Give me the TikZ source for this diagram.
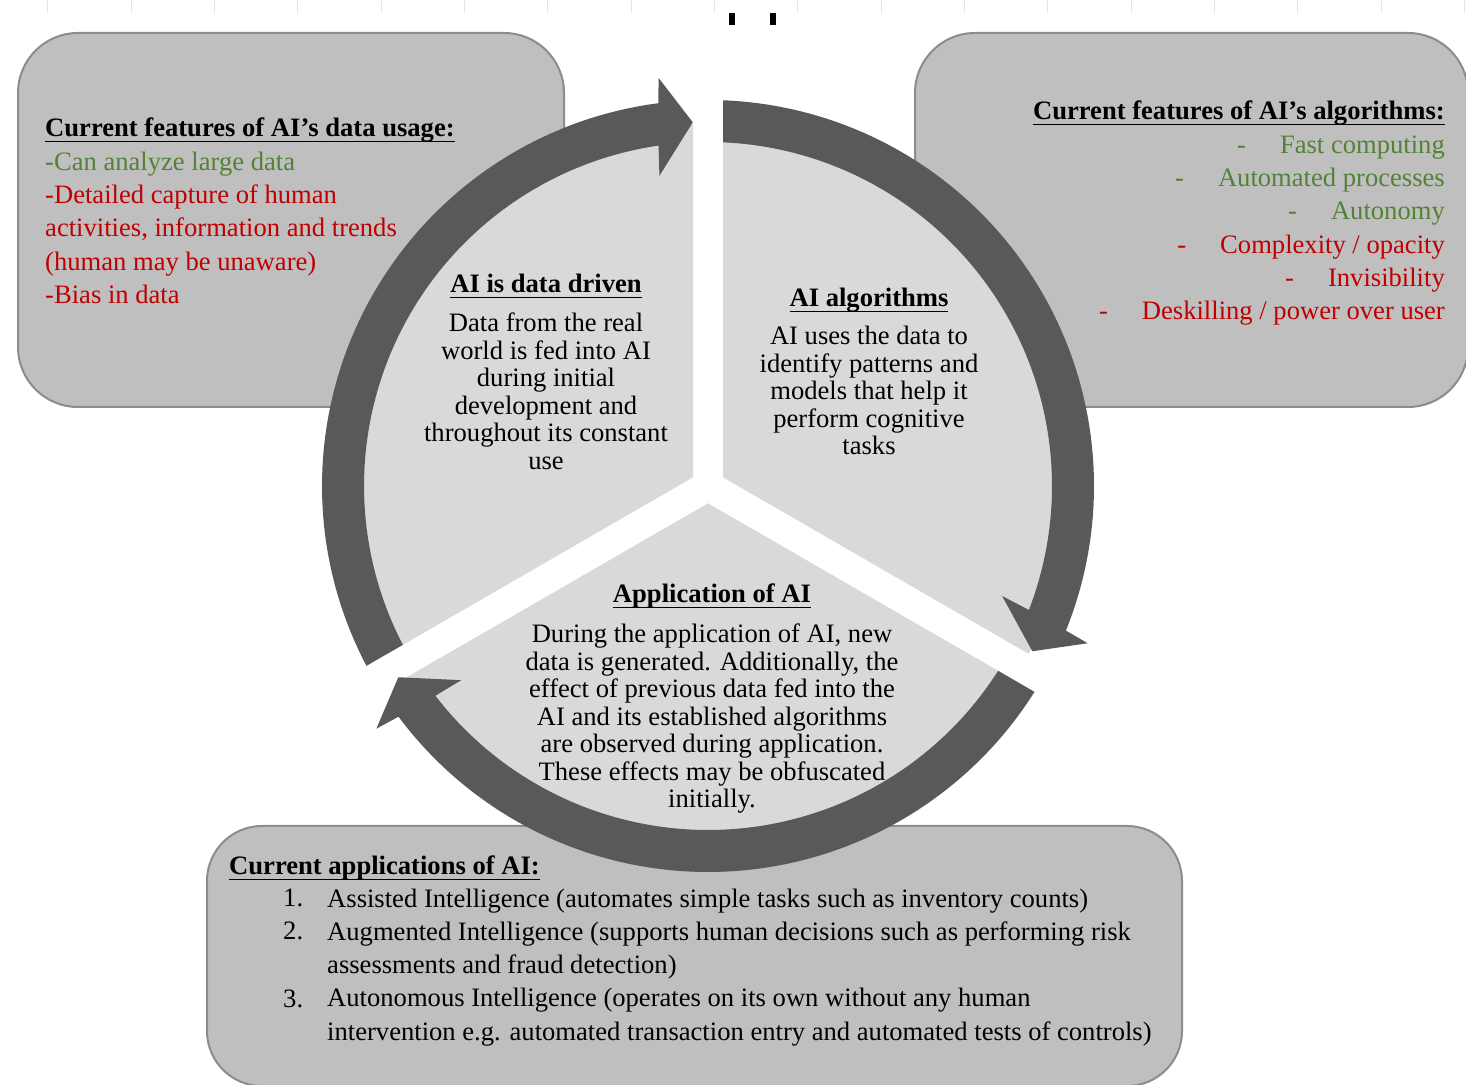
\documentclass[tikz,border=0pt]{standalone}
\usepackage{fontspec}
\setmainfont{Liberation Serif}
\definecolor{boxfill}{HTML}{BFBFBF}
\definecolor{boxline}{HTML}{8C8C8C}
\definecolor{sectorfill}{HTML}{D9D9D9}
\definecolor{ringfill}{HTML}{595959}
\definecolor{grn}{HTML}{548235}
\definecolor{rd}{HTML}{C00000}
% underline that sits close to the baseline, as in a word processor
\newcommand\myul[1]{\setbox0=\hbox{#1}\rlap{\rule[-5.5pt]{\wd0}{1.8pt}}\box0}
\tikzset{
  infobox/.style={fill=boxfill, draw=boxline, line width=2pt, rounded corners=60pt},
  sectorpart/.style={fill=sectorfill},
  ringarrow/.style={fill=ringfill},
  boxtext/.style={font=\fontsize{26.6}{33.3}\selectfont, inner sep=0pt},
  circtext/.style={font=\fontsize{26.6}{27.5}\selectfont, inner sep=0pt, align=center},
  faint/.style={draw=black!10, line width=1pt}
}
\begin{document}
\begin{tikzpicture}[x=1pt, y=1pt]
\useasboundingbox (0,0) rectangle (1466,1084);
\clip (0,0) rectangle (1466,1084);
\fill[white] (0,0) rectangle (1466,1084);

% sheet grid remnants along the top edge
\foreach \k in {0,...,17}
  \draw[faint] ({47.7+83.33*\k},1071) -- ({47.7+83.33*\k},1084);
\fill[black] (729,1059) rectangle (735,1071);
\fill[black] (770,1059) rectangle (776,1071);

% information boxes
\draw[infobox] (18,677) rectangle (564,1051);
\draw[infobox] (915,677) rectangle (1468,1051);
\draw[infobox, rounded corners=55pt] (207,-2) rectangle (1182,258);

% cycle: three sectors and three curved arrows around the centre
\coordinate (C) at (708,598);
\begin{scope}[shift={(C)}]
  \fill[sectorpart] (150:17.32) -- (92.375:362) arc[start angle=92.375, end angle=207.625, radius=362] -- cycle;
  \fill[sectorpart] (30:17.32) -- (-27.625:362) arc[start angle=-27.625, end angle=87.625, radius=362] -- cycle;
  \fill[sectorpart] (270:17.32) -- (212.375:362) arc[start angle=212.375, end angle=327.625, radius=362] -- cycle;

  \fill[ringarrow] (207.77:386) arc[start angle=207.77, end angle=97.4, radius=386]
    -- (96.9:411) -- (92.4:364) -- (98.9:314) -- (98.275:344)
    arc[start angle=98.275, end angle=207.5, radius=344] -- cycle;
  \fill[ringarrow] (87.77:386) arc[start angle=87.77, end angle=-22.0, radius=386]
    -- (-22.5:411) -- (-27:364) -- (-20.5:314) -- (-21.125:344)
    arc[start angle=-21.125, end angle=87.5, radius=344] -- cycle;
  \fill[ringarrow] (-32.23:386) arc[start angle=-32.23, end angle=-143.3, radius=386]
    -- (-143.8:411) -- (-148.3:364) -- (-141.8:314) -- (-142.425:344)
    arc[start angle=-142.425, end angle=-32.5, radius=344] -- cycle;
\end{scope}

% top-left box text (anchored at the baseline of its last line)
\node[boxtext, anchor=base west, align=left] (datafeat) at (45,780.5)
  {\myul{\textbf{Current features of AI’s data usage:}}\\
   \textcolor{grn}{-Can analyze large data}\\
   \textcolor{rd}{-Detailed capture of human}\\
   \textcolor{rd}{activities, information and trends}\\
   \textcolor{rd}{(human may be unaware)}\\
   \textcolor{rd}{-Bias in data}};

% top-right box text
\node[boxtext, anchor=base east, align=right] (algofeat) at (1445,764.2)
  {\myul{\textbf{Current features of AI’s algorithms:}}\\
   \textcolor{grn}{-\hspace{34pt}Fast computing}\\
   \textcolor{grn}{-\hspace{34pt}Automated processes}\\
   \textcolor{grn}{-\hspace{34pt}Autonomy}\\
   \textcolor{rd}{-\hspace{34pt}Complexity / opacity}\\
   \textcolor{rd}{-\hspace{34pt}Invisibility}\\
   \textcolor{rd}{-\hspace{34pt}Deskilling / power over user}};

% sector texts
\node[circtext, anchor=base] (datahead) at (546,791) {\myul{\textbf{AI is data driven}}};
\node[circtext, anchor=base] (databody) at (546,614.5)
  {Data from the real\\world is fed into AI\\during initial\\development and\\throughout its constant\\use};

\node[circtext, anchor=base] (algohead) at (869,777) {\myul{\textbf{AI algorithms}}};
\node[circtext, anchor=base] (algobody) at (869,629)
  {AI uses the data to\\identify patterns and\\models that help it\\perform cognitive\\tasks};

\node[circtext, anchor=base] (apphead) at (712,481) {\myul{\textbf{Application of AI}}};
\node[circtext, anchor=base] (appbody) at (712,276)
  {During the application of AI, new\\data is generated. Additionally, the\\effect of previous data fed into the\\AI and its established algorithms\\are observed during application.\\These effects may be obfuscated\\initially.};

% bottom box text
\node[boxtext, anchor=base west] (apphead2) at (229,209) {\myul{\textbf{Current applications of AI:}}};
\node[boxtext, anchor=base west] (num1) at (283,177) {1.};
\node[boxtext, anchor=base west] (num2) at (283,144) {2.};
\node[boxtext, anchor=base west] (num3) at (283,77) {3.};
\node[boxtext, anchor=base west, align=left] (applist) at (327,43.8)
  {Assisted Intelligence (automates simple tasks such as inventory counts)\\
   Augmented Intelligence (supports human decisions such as performing risk\\
   assessments and fraud detection)\\
   Autonomous Intelligence (operates on its own without any human\\
   intervention e.g. automated transaction entry and automated tests of controls)};
\end{tikzpicture}
\end{document}
